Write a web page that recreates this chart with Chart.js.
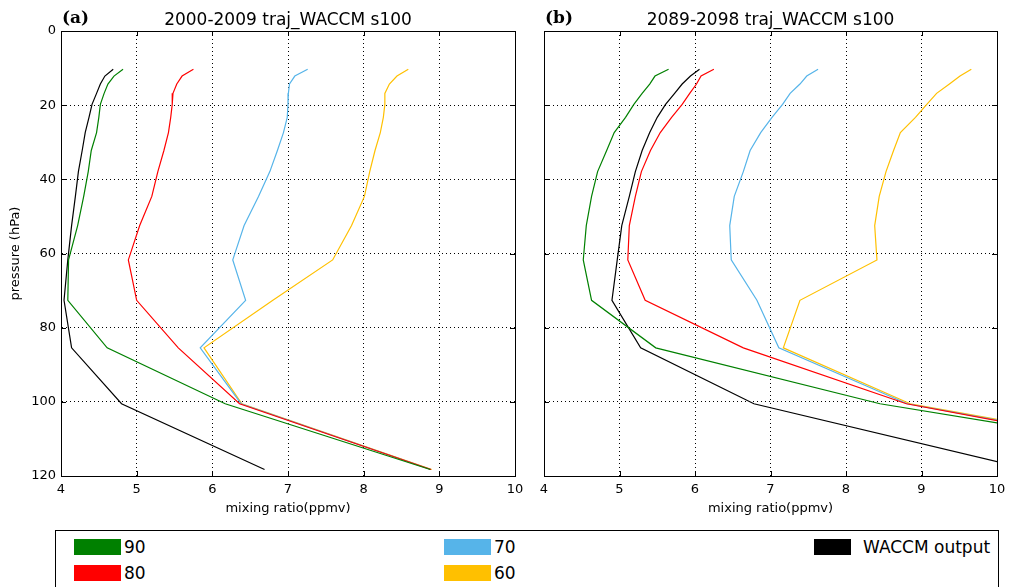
<!DOCTYPE html>
<html>
<head>
<meta charset="utf-8">
<script src="https://cdn.jsdelivr.net/npm/chart.js@4/dist/chart.umd.min.js"></script>
<style>
  html, body { margin: 0; padding: 0; background: #fff; }
  #wrap { position: relative; width: 1009px; height: 587px; overflow: hidden; font-family: "DejaVu Sans", sans-serif; }
  canvas { position: absolute; top: 0; }
  #legend { position: absolute; left: 55px; top: 530px; width: 944px; height: 80px; border: 1px solid #000; box-sizing: border-box; }
  .sw { position: absolute; width: 47px; height: 16px; }
  .lt { position: absolute; font-size: 17px; line-height: 19px; color: #000; }
</style>
</head>
<body>
<div id="wrap">
  <canvas id="ca" width="525" height="520" style="left:0px;width:525px;height:520px"></canvas>
  <canvas id="cb" width="524" height="520" style="left:483px;width:524px;height:520px"></canvas>
  <div id="legend"></div>
</div>
<script>
// ---------- data ----------
const levels = [10.33, 12.15, 14.30, 16.82, 19.79, 23.28, 27.39, 32.22, 37.91, 44.60, 52.47, 61.73, 72.62, 85.44, 100.51, 118.25];

const a90    = [4.82, 4.70, 4.62, 4.57, 4.52, 4.50, 4.47, 4.40, 4.36, 4.30, 4.22, 4.10, 4.09, 4.61, 6.17, 8.88];
const a80    = [5.75, 5.60, 5.53, 5.48, 5.47, 5.45, 5.42, 5.36, 5.28, 5.20, 5.04, 4.89, 5.00, 5.55, 6.36, 8.89];
const a70    = [7.26, 7.09, 7.02, 7.005, 7.00, 6.99, 6.94, 6.86, 6.76, 6.61, 6.42, 6.27, 6.44, 5.84, 6.38, 8.89];
const a60    = [8.59, 8.44, 8.34, 8.28, 8.28, 8.26, 8.22, 8.15, 8.08, 8.01, 7.84, 7.59, 6.80, 5.89, 6.39, 8.90];
const aWACCM = [4.69, 4.58, 4.52, 4.47, 4.41, 4.37, 4.32, 4.28, 4.23, 4.19, 4.14, 4.09, 4.04, 4.14, 4.80, 6.69];

const b90    = [5.65, 5.47, 5.40, 5.30, 5.19, 5.08, 4.93, 4.83, 4.71, 4.63, 4.56, 4.52, 4.63, 5.48, 8.45, 13.80];
const b80    = [6.25, 6.08, 6.02, 5.93, 5.83, 5.69, 5.54, 5.41, 5.29, 5.21, 5.13, 5.11, 5.34, 6.64, 8.80, 13.50];
const b70    = [7.63, 7.48, 7.39, 7.26, 7.16, 7.02, 6.87, 6.73, 6.64, 6.52, 6.46, 6.48, 6.82, 7.11, 8.81, 13.60];
const b60    = [9.66, 9.51, 9.37, 9.20, 9.07, 8.92, 8.72, 8.63, 8.53, 8.44, 8.38, 8.41, 7.39, 7.17, 8.85, 13.67];
const bWACCM = [6.06, 5.94, 5.83, 5.73, 5.61, 5.50, 5.40, 5.30, 5.21, 5.13, 5.03, 4.97, 4.90, 5.28, 6.78, 10.44];

const seriesNames = ['90', '80', '70', '60', 'WACCM output'];
const seriesColors = ['#008000', '#ff0000', '#56b4e9', '#ffc000', '#000000'];
const titles = ['2000-2009 traj_WACCM s100', '2089-2098 traj_WACCM s100'];
const panelLabels = ['(a)', '(b)'];
const xTitle = 'mixing ratio(ppmv)';
const yTitle = 'pressure (hPa)';

// ---------- helpers ----------
function pts(vals) { return vals.map((v, i) => ({ x: v, y: levels[i] })); }

const framePlugin = {
  id: 'frame',
  afterDraw(chart, args, opts) {
    const { ctx, chartArea: a, scales: { x, y } } = chart;
    ctx.save();
    ctx.strokeStyle = '#000';
    ctx.lineWidth = 1;
    ctx.strokeRect(Math.round(a.left) + 0.5, Math.round(a.top) + 0.5, Math.round(a.width), Math.round(a.height));
    ctx.beginPath();
    x.ticks.forEach(t => {
      const px = Math.round(x.getPixelForValue(t.value)) + 0.5;
      ctx.moveTo(px, a.bottom); ctx.lineTo(px, a.bottom - 5);
      ctx.moveTo(px, a.top); ctx.lineTo(px, a.top + 5);
    });
    y.ticks.forEach(t => {
      const py = Math.round(y.getPixelForValue(t.value)) + 0.5;
      ctx.moveTo(a.left, py); ctx.lineTo(a.left + 5, py);
      ctx.moveTo(a.right, py); ctx.lineTo(a.right - 5, py);
    });
    ctx.stroke();
    // panel label
    ctx.fillStyle = '#000';
    ctx.font = 'bold 17px "DejaVu Serif", "Liberation Serif", serif';
    ctx.textBaseline = 'alphabetic';
    ctx.textAlign = 'left';
    ctx.fillText(opts.label, a.left + 1, 23);
    ctx.restore();
  }
};

function makeChart(id, vals, idx, showY) {
  const datasets = vals.map((v, i) => ({
    label: seriesNames[i],
    data: pts(v),
    borderColor: seriesColors[i],
    backgroundColor: seriesColors[i],
    borderWidth: 1.2,
    pointRadius: 0,
    tension: 0,
    fill: false,
    clip: 0
  }));
  return new Chart(document.getElementById(id), {
    type: 'line',
    data: { datasets },
    plugins: [framePlugin],
    options: {
      responsive: false,
      animation: false,
      devicePixelRatio: 1,
      layout: { padding: { top: 0, right: 10, bottom: 0, left: 0 } },
      plugins: {
        legend: { display: false },
        tooltip: { enabled: false },
        title: {
          display: true, text: titles[idx], fullSize: false, color: '#000',
          font: { family: '"DejaVu Sans", sans-serif', size: 17, weight: 'normal' },
          padding: { top: 10.5, bottom: 0.1 }
        },
        frame: { label: panelLabels[idx] }
      },
      scales: {
        x: {
          type: 'linear', min: 4, max: 10,
          ticks: { stepSize: 1, color: '#000', padding: 6, font: { family: '"DejaVu Sans", sans-serif', size: 13 } },
          grid: { color: '#000', lineWidth: 1, drawTicks: false },
          border: { display: true, color: '#000', dash: [1, 3] },
          title: { display: true, text: xTitle, color: '#000', font: { family: '"DejaVu Sans", sans-serif', size: 13 }, padding: { top: 0, bottom: 4 } },
          afterFit(s) { s.height = 44; s.paddingLeft = 0; s.paddingRight = 0; }
        },
        y: {
          type: 'linear', reverse: true, min: 0, max: 120,
          ticks: { display: showY, stepSize: 20, color: '#000', padding: 5, font: { family: '"DejaVu Sans", sans-serif', size: 13 } },
          grid: { color: '#000', lineWidth: 1, drawTicks: false },
          border: { display: true, color: '#000', dash: [1, 3] },
          title: { display: showY, text: yTitle, color: '#000', font: { family: '"DejaVu Sans", sans-serif', size: 13 }, padding: { top: 8, bottom: 0 } },
          afterFit(s) { s.width = 61; }
        }
      }
    }
  });
}

makeChart('ca', [a90, a80, a70, a60, aWACCM], 0, true);
makeChart('cb', [b90, b80, b70, b60, bWACCM], 1, false);

// ---------- legend ----------
const legendPos = [
  { l: 18, t: 8, w: 47 }, { l: 18, t: 34, w: 47 }, { l: 388, t: 8, w: 47 }, { l: 388, t: 34, w: 47 }, { l: 758, t: 8, w: 37 }
];
const lg = document.getElementById('legend');
seriesNames.forEach((n, i) => {
  const sw = document.createElement('div');
  sw.className = 'sw';
  sw.style.left = legendPos[i].l + 'px';
  sw.style.top = legendPos[i].t + 'px';
  sw.style.width = legendPos[i].w + 'px';
  sw.style.background = seriesColors[i];
  lg.appendChild(sw);
  const tx = document.createElement('div');
  tx.className = 'lt';
  tx.style.left = (legendPos[i].l + legendPos[i].w + (i === 4 ? 12 : 3)) + 'px';
  tx.style.top = (legendPos[i].t - 1) + 'px';
  tx.textContent = n;
  lg.appendChild(tx);
});
</script>
</body>
</html>
